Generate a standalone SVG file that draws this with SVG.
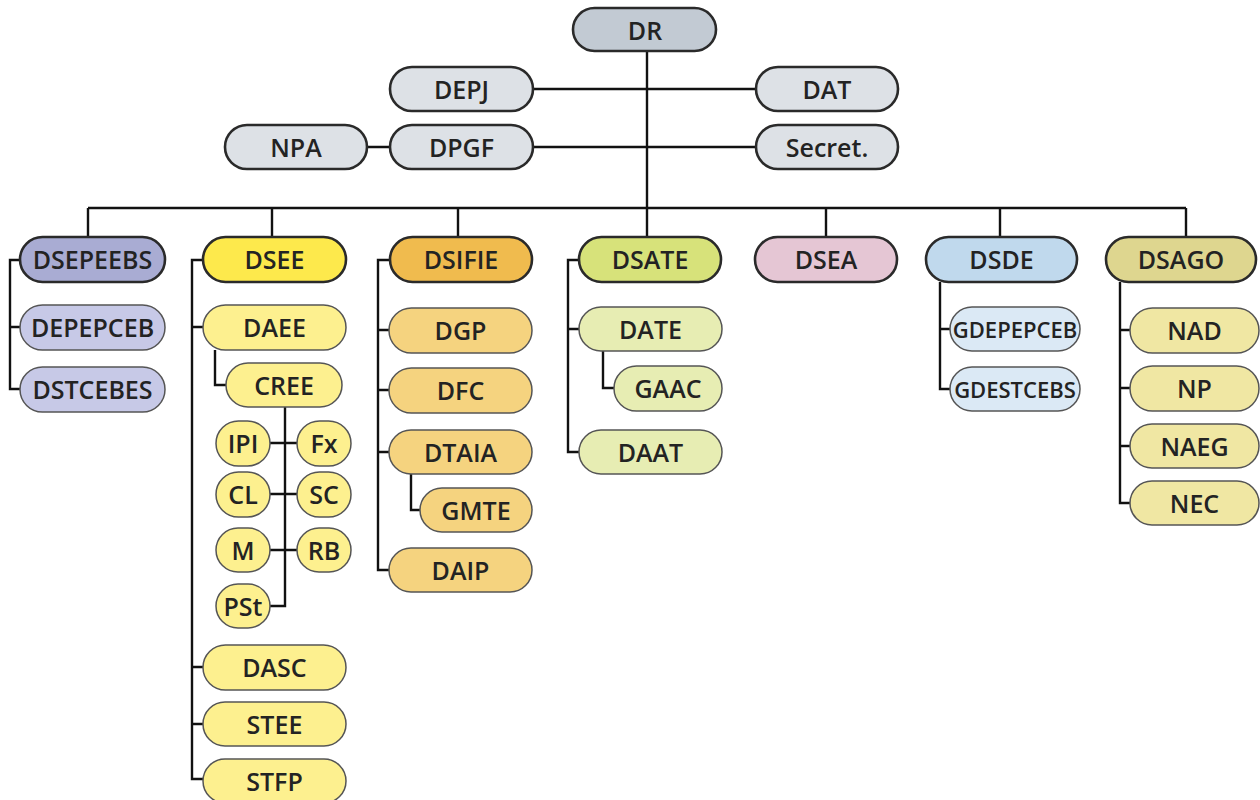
<svg xmlns="http://www.w3.org/2000/svg" width="1260" height="800" viewBox="0 0 1260 800">
<style>
text{font-family:"Open Sans","Liberation Sans",sans-serif;font-weight:600;font-size:25px;fill:#232323;text-anchor:middle;dominant-baseline:central}
.main{stroke:#2a2a2a;stroke-width:2.6}
.sub{stroke:#555;stroke-width:1.5}
.top{fill:#c2cad3}
.gray{fill:#dde1e6}
.small{font-size:22px}
.lines path{fill:none;stroke:#111;stroke-width:2.4}
</style>
<rect width="1260" height="800" fill="#fff"/>
<g class="lines" id="connectors">
<path d="M647 51V208M533 89H756M533 147H756M367 147H390M88 208H1186M88 208V237M272 208V237M458 208V237M647 208V237M826 208V237M1000 208V237M1186 208V237"/>
<path d="M20 260H10V389H20M10 327H20"/>
<path d="M203 260H192V779H203M192 327H203M192 667H203M192 724H203M215 350V385H226"/>
<path d="M285 407V606H270M270 443H297M270 494H297M270 550H297"/>
<path d="M390 260H378V570H389M378 330H389M378 390H389M378 452H389M411 474V510H420"/>
<path d="M579 260H568V452H579M568 329H579M603 351V388H614"/>
<path d="M940 282V389H950M940 329H950"/>
<path d="M1120 282V503H1130M1120 330H1130M1120 388H1130M1120 446H1130"/>
</g>
<g id="DR"><rect class="main top" x="573" y="8" width="143" height="43" rx="21.5"/><text x="645" y="29.5">DR</text></g>
<g id="DEPJ"><rect class="main gray" x="390" y="67" width="143" height="44" rx="22"/><text x="461.5" y="88.5">DEPJ</text></g>
<g id="DAT"><rect class="main gray" x="756" y="67" width="142" height="44" rx="22"/><text x="827" y="88.5">DAT</text></g>
<g id="NPA"><rect class="main gray" x="225" y="125" width="142" height="44" rx="22"/><text x="296" y="146.5">NPA</text></g>
<g id="DPGF"><rect class="main gray" x="390" y="125" width="143" height="44" rx="22"/><text x="461.5" y="146.5">DPGF</text></g>
<g id="Secret"><rect class="main gray" x="756" y="125" width="142" height="44" rx="22"/><text x="827" y="146.5">Secret.</text></g>

<g id="DSEPEEBS"><rect class="main" fill="#a9acd3" x="20" y="237" width="145" height="45" rx="22.5"/><text x="92.5" y="259">DSEPEEBS</text></g>
<g id="DEPEPCEB"><rect class="sub" fill="#c7c9e7" x="20" y="305" width="145" height="45" rx="22.5"/><text x="92.5" y="327">DEPEPCEB</text></g>
<g id="DSTCEBES"><rect class="sub" fill="#c7c9e7" x="20" y="367" width="145" height="45" rx="22.5"/><text x="92.5" y="389">DSTCEBES</text></g>

<g id="DSEE"><rect class="main" fill="#fde94c" x="203" y="237" width="143" height="45" rx="22.5"/><text x="274.5" y="259">DSEE</text></g>
<g id="DAEE"><rect class="sub" fill="#fdf08f" x="203" y="305" width="143" height="45" rx="22.5"/><text x="274.5" y="327">DAEE</text></g>
<g id="CREE"><rect class="sub" fill="#fdf08f" x="226" y="363" width="116" height="44" rx="22"/><text x="284" y="384.5">CREE</text></g>
<g id="IPI"><rect class="sub" fill="#fdf08f" x="216" y="421" width="54" height="45" rx="22.5"/><text x="243" y="442.5">IPI</text></g>
<g id="Fx"><rect class="sub" fill="#fdf08f" x="297" y="421" width="54" height="45" rx="22.5"/><text x="324" y="442.5">Fx</text></g>
<g id="CL"><rect class="sub" fill="#fdf08f" x="216" y="472" width="54" height="45" rx="22.5"/><text x="243" y="493.5">CL</text></g>
<g id="SC"><rect class="sub" fill="#fdf08f" x="297" y="472" width="54" height="45" rx="22.5"/><text x="324" y="493.5">SC</text></g>
<g id="M"><rect class="sub" fill="#fdf08f" x="216" y="528" width="54" height="44" rx="22"/><text x="243" y="549.5">M</text></g>
<g id="RB"><rect class="sub" fill="#fdf08f" x="297" y="528" width="54" height="44" rx="22"/><text x="324" y="549.5">RB</text></g>
<g id="PSt"><rect class="sub" fill="#fdf08f" x="216" y="584" width="54" height="44" rx="22"/><text x="243" y="605.5">PSt</text></g>
<g id="DASC"><rect class="sub" fill="#fdf08f" x="203" y="645" width="143" height="45" rx="22.5"/><text x="274.5" y="667">DASC</text></g>
<g id="STEE"><rect class="sub" fill="#fdf08f" x="203" y="702" width="143" height="44" rx="22"/><text x="274.5" y="723.5">STEE</text></g>
<g id="STFP"><rect class="sub" fill="#fdf08f" x="203" y="759" width="143" height="44" rx="22"/><text x="274.5" y="780.5">STFP</text></g>

<g id="DSIFIE"><rect class="main" fill="#f0bb4e" x="390" y="237" width="142" height="45" rx="22.5"/><text x="461" y="259">DSIFIE</text></g>
<g id="DGP"><rect class="sub" fill="#f5d37f" x="389" y="308" width="143" height="45" rx="22.5"/><text x="460.5" y="330">DGP</text></g>
<g id="DFC"><rect class="sub" fill="#f5d37f" x="389" y="368" width="143" height="45" rx="22.5"/><text x="460.5" y="390">DFC</text></g>
<g id="DTAIA"><rect class="sub" fill="#f5d37f" x="389" y="430" width="143" height="44" rx="22"/><text x="460.5" y="451.5">DTAIA</text></g>
<g id="GMTE"><rect class="sub" fill="#f5d37f" x="420" y="488" width="112" height="44" rx="22"/><text x="476" y="509.5">GMTE</text></g>
<g id="DAIP"><rect class="sub" fill="#f5d37f" x="389" y="548" width="143" height="44" rx="22"/><text x="460.5" y="569.5">DAIP</text></g>

<g id="DSATE"><rect class="main" fill="#d7e27a" x="579" y="237" width="142" height="45" rx="22.5"/><text x="650" y="259">DSATE</text></g>
<g id="DATE"><rect class="sub" fill="#e7edb3" x="579" y="307" width="143" height="44" rx="22"/><text x="650.5" y="328.5">DATE</text></g>
<g id="GAAC"><rect class="sub" fill="#e7edb3" x="614" y="366" width="108" height="45" rx="22.5"/><text x="668" y="388">GAAC</text></g>
<g id="DAAT"><rect class="sub" fill="#e7edb3" x="579" y="430" width="143" height="44" rx="22"/><text x="650.5" y="451.5">DAAT</text></g>

<g id="DSEA"><rect class="main" fill="#e5c6d4" x="755" y="237" width="142" height="45" rx="22.5"/><text x="826" y="259">DSEA</text></g>

<g id="DSDE"><rect class="main" fill="#c0d9ed" x="926" y="237" width="151" height="45" rx="22.5"/><text x="1001.5" y="259">DSDE</text></g>
<g id="GDEPEPCEB"><rect class="sub" fill="#dbe9f5" x="950" y="307" width="130" height="44" rx="22"/><text class="small" x="1015" y="328.5">GDEPEPCEB</text></g>
<g id="GDESTCEBS"><rect class="sub" fill="#dbe9f5" x="950" y="367" width="130" height="44" rx="22"/><text class="small" x="1015" y="388.5">GDESTCEBS</text></g>

<g id="DSAGO"><rect class="main" fill="#ded68f" x="1106" y="237" width="150" height="45" rx="22.5"/><text x="1181" y="259">DSAGO</text></g>
<g id="NAD"><rect class="sub" fill="#f0e7a3" x="1130" y="308" width="129" height="45" rx="22.5"/><text x="1194.5" y="330">NAD</text></g>
<g id="NP"><rect class="sub" fill="#f0e7a3" x="1130" y="366" width="129" height="45" rx="22.5"/><text x="1194.5" y="388">NP</text></g>
<g id="NAEG"><rect class="sub" fill="#f0e7a3" x="1130" y="424" width="129" height="44" rx="22"/><text x="1194.5" y="445.5">NAEG</text></g>
<g id="NEC"><rect class="sub" fill="#f0e7a3" x="1130" y="481" width="129" height="44" rx="22"/><text x="1194.5" y="502.5">NEC</text></g>
</svg>
